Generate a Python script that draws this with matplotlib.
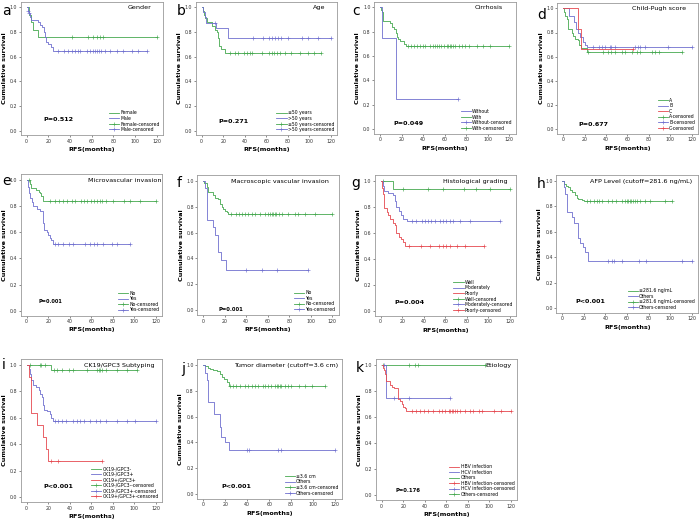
import numpy as np
import matplotlib
matplotlib.use('Agg')
import matplotlib.pyplot as plt
from matplotlib.lines import Line2D

GREEN = '#45a84f'
BLUE = '#6f6fcf'
RED = '#e5484f'

# ---------------------------------------------------------------------------
# data: event times (months), survival after each event,
# censor times
# ---------------------------------------------------------------------------
# a  Gender
a_fem_t = [2, 4, 5.5, 10]
a_fem_s = [0.94, 0.88, 0.82, 0.76]
a_fem_c = [41.5, 57, 61.5, 64.6, 67.7, 70.8, 120]
a_male_t = [1, 2, 3, 4, 10, 12, 14, 16, 16.5, 18, 20, 22, 24]
a_male_s = [0.97, 0.95, 0.92, 0.90, 0.88, 0.86, 0.84, 0.80, 0.76, 0.72, 0.70, 0.68, 0.645]
a_male_c = [1.5, 2.5, 29, 34, 38, 41.5, 44.6, 47, 49, 56, 58, 61.5, 63, 64.6, 67, 69, 72, 77, 83, 89, 97, 103, 111]

# b  Age
b_young_t = [1, 2, 3, 4.5, 10, 12, 14, 15, 16.5, 18, 22]
b_young_s = [0.97, 0.94, 0.91, 0.88, 0.85, 0.82, 0.80, 0.75, 0.69, 0.66, 0.63]
b_young_c = [26, 31, 34, 39, 42, 45, 47, 56, 62, 65, 67, 70, 73, 77, 83, 91, 99, 104, 111]
b_old_t = [1.5, 3, 4, 13, 24]
b_old_s = [0.96, 0.92, 0.87, 0.83, 0.75]
b_old_c = [12, 48, 57, 62, 65, 68, 71, 74, 80, 93, 99, 108, 120]

# c  Cirrhosis
c_without_t = [2, 15]
c_without_s = [0.75, 0.25]
c_without_c = [72]
c_with_t = [1, 2, 3, 9, 11, 13, 15, 16, 17, 19, 22, 24]
c_with_s = [0.98, 0.96, 0.89, 0.87, 0.84, 0.82, 0.79, 0.76, 0.74, 0.72, 0.70, 0.685]
c_with_c = [26, 29, 32, 34, 37, 40, 42, 46, 49, 51, 53, 55, 57, 59, 62, 63, 65, 66, 68, 70,
            73, 76, 79, 83, 90, 96, 102, 120]

# d  Child-Pugh score
d_a_t = [1, 2, 3, 4.5, 8, 9.5, 11, 14, 15, 16.5, 22]
d_a_s = [0.97, 0.94, 0.91, 0.83, 0.80, 0.77, 0.75, 0.74, 0.70, 0.67, 0.635]
d_a_c = [23, 37, 42, 45, 48, 55, 58, 64, 69, 72, 83, 86, 89, 111]
d_b_t = [5, 10, 12, 14, 16, 18, 20, 22]
d_b_s = [0.94, 0.89, 0.83, 0.80, 0.76, 0.72, 0.70, 0.68]
d_b_c = [28, 33, 36, 39, 44, 45, 48, 67, 70, 72, 76, 98, 120]
d_c_t = [14, 17]
d_c_s = [0.833, 0.667]
d_c_c = [65]

# e  Microvascular invasion
e_no_t = [3, 4, 9, 11, 12, 13, 15]
e_no_s = [0.97, 0.94, 0.92, 0.91, 0.90, 0.88, 0.84]
e_no_c = [2, 22, 26, 30, 34, 37, 42, 45, 50, 53, 56, 60, 62, 65, 68, 70, 74, 80, 90, 96, 105, 120]
e_yes_t = [1.5, 2.5, 3.5, 4.6, 6, 10, 12.5, 15, 16.5, 18.5, 20, 21.5, 23, 24]
e_yes_s = [0.95, 0.90, 0.86, 0.83, 0.80, 0.78, 0.76, 0.67, 0.62, 0.60, 0.58, 0.56, 0.54, 0.51]
e_yes_c = [26, 29, 34, 39, 43, 54, 59, 62, 65, 71, 79, 84, 96]

# f  Macroscopic vascular invasion
f_no_t = [1, 3, 4.6, 9, 10.8, 14, 15.5, 17, 18.6, 20, 21.7, 23]
f_no_s = [0.98, 0.95, 0.91, 0.89, 0.87, 0.86, 0.82, 0.80, 0.78, 0.77, 0.76, 0.74]
f_no_c = [26, 30, 33, 36, 39, 42, 45, 48, 53, 57, 60, 62, 64, 65, 67, 68, 70, 73, 79, 85, 88,
          95, 104, 120]
f_yes_t = [2, 3.5, 9, 10.5, 14, 16, 21]
f_yes_s = [0.94, 0.70, 0.645, 0.58, 0.45, 0.385, 0.31]
f_yes_c = [40, 55, 69, 97]

# g  Histological grading
g_well_t = [11]
g_well_s = [0.94]
g_well_c = [2.5, 21, 44, 58, 77, 88, 101, 120]
g_mod_t = [2.5, 3.5, 6.5, 11, 13, 14.5, 17, 19, 21, 24]
g_mod_s = [0.96, 0.92, 0.91, 0.89, 0.85, 0.80, 0.77, 0.74, 0.71, 0.69]
g_mod_c = [29, 33, 38, 41, 44, 47, 50, 55, 58, 61, 64, 67, 74, 83, 111]
g_poor_t = [1, 2, 3.5, 5.5, 7, 9, 11, 13, 14.5, 17, 19, 20.5, 23]
g_poor_s = [0.95, 0.90, 0.79, 0.76, 0.74, 0.71, 0.68, 0.66, 0.60, 0.57, 0.55, 0.53, 0.50]
g_poor_c = [26, 37, 46, 54, 58, 61, 64, 71, 78, 96]

# h  AFP level
h_low_t = [2, 3, 5, 7, 9, 12, 13.5, 15, 18.5, 20.5]
h_low_s = [0.98, 0.96, 0.95, 0.93, 0.91, 0.89, 0.87, 0.86, 0.85, 0.84]
h_low_c = [23, 26, 29, 32, 34, 37, 42, 46, 50, 55, 58, 60, 61, 63, 64, 66, 67, 69, 72, 77, 81,
           95, 102]
h_high_t = [1.5, 2.5, 4, 9, 10.5, 11, 15, 16.5, 19.5, 21, 23.5]
h_high_s = [0.95, 0.90, 0.76, 0.72, 0.69, 0.67, 0.55, 0.51, 0.48, 0.44, 0.37]
h_high_c = [42, 46, 48, 55, 71, 78, 111, 120]

# i  CK19/GPC3 subtyping
i_neg_t = [23]
i_neg_s = [0.96]
i_neg_c = [3, 12, 13, 17, 25, 28, 33, 39, 43, 56, 65, 67, 68, 70, 74, 84, 93, 103]
i_gpc_t = [2.5, 3, 4, 5.6, 9, 11, 12.4, 14, 15.5, 16.5, 19, 22, 23, 24]
i_gpc_s = [0.97, 0.93, 0.89, 0.85, 0.83, 0.81, 0.78, 0.76, 0.70, 0.66, 0.65, 0.63, 0.60, 0.58]
i_gpc_c = [26, 29, 33, 37, 43, 47, 50, 53, 59, 64, 68, 74, 84, 93, 101, 120]
i_ck_t = [2.5, 4, 10, 15.5, 18, 19.5]
i_ck_s = [0.91, 0.64, 0.545, 0.455, 0.364, 0.273]
i_ck_c = [23, 29.5, 70]

# j  Tumor diameter
j_small_t = [2, 4, 6.5, 9, 12.5, 15, 17, 18.5, 21.5, 23]
j_small_s = [0.99, 0.98, 0.97, 0.96, 0.95, 0.93, 0.91, 0.89, 0.87, 0.84]
j_small_c = [24, 27, 30, 33, 38, 41, 44, 47, 50, 54, 56, 59, 62, 65, 67, 68, 70, 71, 74, 77, 80,
             87, 93, 99, 111]
j_big_t = [2, 3, 4, 10, 15, 16.5, 19.5, 23]
j_big_s = [0.94, 0.88, 0.71, 0.62, 0.52, 0.44, 0.40, 0.34]
j_big_c = [40, 42, 68, 71, 120]

# k  Etiology
k_hbv_t = [1.5, 2.5, 3.4, 4, 8, 9.5, 11, 15, 15.5, 17, 18.5, 20, 21.5, 23]
k_hbv_s = [0.98, 0.96, 0.93, 0.88, 0.85, 0.83, 0.82, 0.77, 0.74, 0.72, 0.70, 0.68, 0.67, 0.65]
k_hbv_c = [28, 32, 36, 39, 43, 48, 53, 56, 59, 62, 63, 65, 66, 68, 70, 73, 77, 82, 85, 90, 93,
           104, 111, 120]
k_hcv_t = [4]
k_hcv_s = [0.75]
k_hcv_c = [2, 11, 25, 63]
k_oth_t = []
k_oth_s = []
k_oth_c = [1.5, 25, 31, 34, 96]

# ---------------------------------------------------------------------------
W, H = 699, 524
fig = plt.figure(figsize=(W / 100, H / 100), dpi=100)


def make_ax(x0, x120, y1, y0):
    # pixel position of x=0, x=120, y=1.0, y=0.0 -> axes box
    ppx = (x120 - x0) / 120.0
    ppy = (y0 - y1)
    xl, xr = -5.5, 126
    yb, yt = -0.037, 1.045
    left = x0 + xl * ppx
    right = x0 + xr * ppx
    top = y1 - (yt - 1) * ppy
    bottom = y0 - yb * ppy
    ax = fig.add_axes([left / W, 1 - bottom / H, (right - left) / W, (bottom - top) / H])
    ax.set_xlim(xl, xr)
    ax.set_ylim(yb, yt)
    ax.set_xticks([0, 20, 40, 60, 80, 100, 120])
    ax.set_yticks([0, 0.2, 0.4, 0.6, 0.8, 1.0])
    ax.set_yticklabels(['0.0', '0.2', '0.4', '0.6', '0.8', '1.0'])
    ax.tick_params(labelsize=3.4, length=1.5, width=0.4, pad=1, colors='#333333')
    for sp in ax.spines.values():
        sp.set_color('#9a9a9a')
        sp.set_linewidth(0.6)
    ax.set_xlabel('RFS(months)', fontsize=4.6, fontweight='bold', labelpad=2.5)
    ax.set_ylabel('Cumulative survival', fontsize=4.6, fontweight='bold', labelpad=2)
    return ax


def km(ax, t, s, cens, color):
    end = max(list(t) + list(cens))
    xs = [0] + list(t) + [end]
    ys = [1.0] + list(s) + [s[-1] if s else 1.0]
    ax.step(xs, ys, where='post', color=color, lw=0.6)
    tt = np.array([0] + list(t))
    yy = np.array([1.0] + list(s))
    cy = [yy[np.searchsorted(tt, c, side='right') - 1] for c in cens]
    ax.plot(cens, cy, ls='none', marker='+', ms=2.6, mew=0.45, color=color)


def legend(ax, labels, colors):
    hs = [Line2D([], [], color=c, lw=0.6) for c in colors]
    hs += [Line2D([], [], color=c, lw=0.6, marker='+', ms=2.6, mew=0.45) for c in colors]
    labs = list(labels) + [l + '-censored' for l in labels]
    ax.legend(hs, labs, loc='lower right', bbox_to_anchor=(1.0, 0.0), fontsize=3.3,
              frameon=False, handlelength=2.2, handletextpad=0.3, labelspacing=0.12,
              borderpad=0.4, borderaxespad=0.3)


def title(ax, txt, x):
    ax.text(x, 0.995, txt, ha='right', va='center', fontsize=4.6)


def pval(ax, txt, x, y, size=4.6):
    ax.text(x, y, txt, ha='left', va='center', fontsize=size, fontweight='bold')


# a
ax = make_ax(26.7, 156.7, 7.3, 130.7)
km(ax, a_fem_t, a_fem_s, a_fem_c, GREEN)
km(ax, a_male_t, a_male_s, a_male_c, BLUE)
legend(ax, ['Female', 'Male'], [GREEN, BLUE])
title(ax, 'Gender', 115)
pval(ax, 'P=0.512', 15, 0.087)

# b
ax = make_ax(201.7, 331, 7.3, 130.7)
km(ax, b_young_t, b_young_s, b_young_c, GREEN)
km(ax, b_old_t, b_old_s, b_old_c, BLUE)
legend(ax, ['\u226450 years', '>50 years'], [GREEN, BLUE])
title(ax, 'Age', 115)
pval(ax, 'P=0.271', 15.5, 0.073)

# c
ax = make_ax(380, 509.3, 7.3, 129.3)
km(ax, c_with_t, c_with_s, c_with_c, GREEN)
km(ax, c_without_t, c_without_s, c_without_c, BLUE)
legend(ax, ['Without', 'With'], [BLUE, GREEN])
title(ax, 'Cirrhosis', 114)
pval(ax, 'P=0.049', 12.4, 0.05)

# d
ax = make_ax(563.3, 691.7, 8.3, 129.3)
km(ax, d_a_t, d_a_s, d_a_c, GREEN)
km(ax, d_b_t, d_b_s, d_b_c, BLUE)
km(ax, d_c_t, d_c_s, d_c_c, RED)
legend(ax, ['A', 'B', 'C'], [GREEN, BLUE, RED])
title(ax, 'Child-Pugh score', 115)
pval(ax, 'P=0.677', 14, 0.036)

# e
ax = make_ax(26.7, 156, 180, 310.7)
km(ax, e_no_t, e_no_s, e_no_c, GREEN)
km(ax, e_yes_t, e_yes_s, e_yes_c, BLUE)
legend(ax, ['No', 'Yes'], [GREEN, BLUE])
title(ax, 'Microvascular invasion', 125)
pval(ax, 'P=0.001', 10.8, 0.069, size=3.6)

# f
ax = make_ax(203.3, 332.3, 180.7, 310.3)
km(ax, f_no_t, f_no_s, f_no_c, GREEN)
km(ax, f_yes_t, f_yes_s, f_yes_c, BLUE)
legend(ax, ['No', 'Yes'], [GREEN, BLUE])
title(ax, 'Macroscopic vascular invasion', 117)
pval(ax, 'P=0.001', 14, 0.01, size=3.8)

# g
ax = make_ax(380.7, 510, 181, 311)
km(ax, g_well_t, g_well_s, g_well_c, GREEN)
km(ax, g_mod_t, g_mod_s, g_mod_c, BLUE)
km(ax, g_poor_t, g_poor_s, g_poor_c, RED)
legend(ax, ['Well', 'Moderately', 'Poorly'], [GREEN, BLUE, RED])
title(ax, 'Histological grading', 118)
pval(ax, 'P=0.004', 13, 0.064)

# h
ax = make_ax(562.3, 691.7, 181, 308.3)
km(ax, h_low_t, h_low_s, h_low_c, GREEN)
km(ax, h_high_t, h_high_s, h_high_c, BLUE)
legend(ax, ['\u2264281.6 ng/mL', 'Others'], [GREEN, BLUE])
title(ax, 'AFP Level (cutoff=281.6 ng/mL)', 120)
pval(ax, 'P<0.001', 11.8, 0.052)

# i
ax = make_ax(26.7, 155.7, 365, 497.3)
km(ax, i_neg_t, i_neg_s, i_neg_c, GREEN)
km(ax, i_gpc_t, i_gpc_s, i_gpc_c, BLUE)
km(ax, i_ck_t, i_ck_s, i_ck_c, RED)
legend(ax, ['CK19-/GPC3-', 'CK19-/GPC3+', 'CK19+/GPC3+'], [GREEN, BLUE, RED])
title(ax, 'CK19/GPC3 Subtyping', 119)
pval(ax, 'P<0.001', 15.5, 0.08)

# j
ax = make_ax(203.3, 335, 365, 494)
km(ax, j_small_t, j_small_s, j_small_c, GREEN)
km(ax, j_big_t, j_big_s, j_big_c, BLUE)
legend(ax, ['\u22643.6 cm', 'Others'], [GREEN, BLUE])
title(ax, 'Tumor diameter (cutoff=3.6 cm)', 123)
pval(ax, 'P<0.001', 16.7, 0.062)

# k
ax = make_ax(381.7, 511, 365, 495.3)
km(ax, k_oth_t, k_oth_s, k_oth_c, GREEN)
km(ax, k_hcv_t, k_hcv_s, k_hcv_c, BLUE)
km(ax, k_hbv_t, k_hbv_s, k_hbv_c, RED)
legend(ax, ['HBV infection', 'HCV infection', 'Others'], [RED, BLUE, GREEN])
title(ax, 'Etiology', 120)
pval(ax, 'P=0.176', 12.4, 0.04, size=3.8)

# panel letters
letters = ['a', 'b', 'c', 'd', 'e', 'f', 'g', 'h', 'i', 'j', 'k']
letter_px = [(2, 11), (177, 11), (352, 11), (537, 15), (2, 181), (177, 183), (351, 183),
             (537, 184), (2, 365), (181, 369), (356, 368)]
for L, (px, py) in zip(letters, letter_px):
    fig.text(px / W, 1 - py / H, L, fontsize=10, ha='left', va='center')

fig.savefig('out.png', dpi=100)
